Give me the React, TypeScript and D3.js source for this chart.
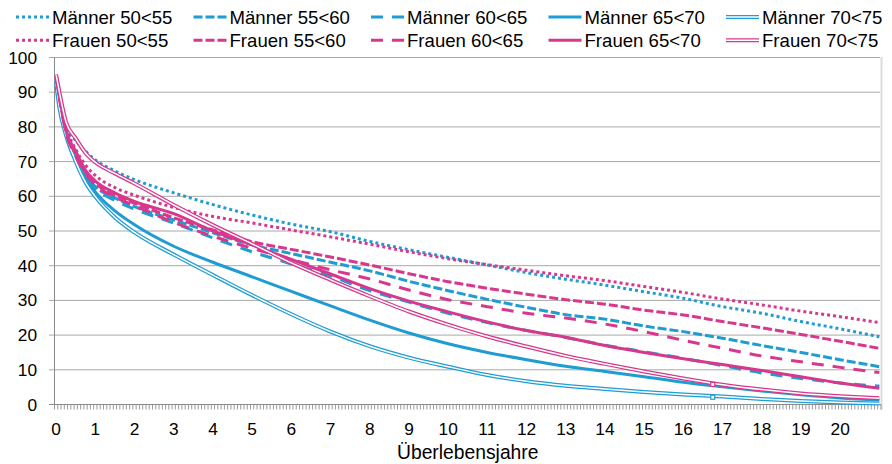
import React from 'react';
import * as d3 from 'd3';

// Survival years (x positions of the read-off points)
const YEARS = [0, 1 / 12, 0.25, 0.5, 0.75, 1, 1.5, 2, 3, 4, 5, 6, 7, 8, 9, 10, 11, 12, 13, 14, 15, 16, 17, 18, 19, 20, 21];

const M50 = [93, 87, 80, 76, 73, 70.5, 67.3, 64.8, 61, 57.6, 54.6, 52, 49.8, 47, 44.6, 42.4, 40.2, 38, 36.1, 34.4, 32.5, 30.6, 28.2, 26.3, 23.9, 21.8, 19.5];
const M55 = [93, 87, 78.5, 71, 66, 62.8, 59.5, 57, 53.2, 49.5, 46, 43.5, 41, 38.5, 35.5, 32.8, 30.3, 28, 25.9, 24.6, 22.6, 21, 19.1, 17, 15, 12.9, 10.9];
const M60 = [93, 87, 78, 70.5, 65.5, 62.3, 58.8, 56.3, 52.3, 48, 44, 40.5, 37, 32.8, 29.5, 26.3, 23.6, 21.3, 19.3, 17.1, 15.2, 13.3, 11.2, 9.1, 7.5, 6.2, 5.3];
const M65 = [93, 86, 78.7, 72, 65.5, 61.3, 55.8, 51.8, 45.6, 41, 36.8, 32.6, 28.4, 24.3, 20.6, 17.5, 15, 12.9, 11, 9.5, 8, 6.4, 5.1, 3.9, 2.8, 1.9, 1.3];
const M70 = [92.6, 85.5, 77.7, 70, 64, 59.9, 53.9, 49.6, 43.2, 37.3, 31.5, 26, 21, 16.8, 13.5, 10.9, 8.5, 6.7, 5.4, 4.5, 3.6, 2.9, 2.3, 1.6, 1.0, 0.6, 0.3];
const F50 = [95, 89, 80, 73.5, 69, 66, 62.5, 60.3, 56.8, 54.2, 52.3, 50.3, 48.3, 46.2, 44, 42, 40.3, 38.7, 37.1, 35.7, 34, 32.3, 30.4, 28.7, 26.9, 25.3, 23.6];
const F55 = [95, 88.5, 79, 72, 67, 63.8, 60.3, 58, 53.8, 50.3, 46.9, 44.7, 42.5, 40.2, 37.7, 35.4, 33.5, 31.8, 30.2, 28.9, 27.2, 25.8, 23.9, 22.1, 20.2, 18.2, 16.2];
const F60 = [95, 88.5, 78.5, 71.5, 66.5, 63.3, 59.8, 57.3, 52.5, 48.5, 45, 41.8, 38.8, 36.2, 33, 30.2, 28.2, 26.3, 24.9, 23.2, 21, 18.5, 16.2, 14, 12.3, 10.7, 9.2];
const F65 = [95, 89, 79, 73, 67.5, 64.4, 61, 58.5, 55, 50, 46, 41.8, 37.6, 33.4, 29.8, 26.7, 23.8, 21.3, 19.4, 17, 15, 13.2, 11.5, 9.8, 8, 6.2, 4.7];
const F70 = [95, 90, 81.5, 76.7, 72.5, 69.8, 66.6, 63.7, 57.5, 51.7, 46.3, 40.8, 35.9, 31.2, 26.8, 23, 19.6, 16.7, 14, 11.7, 9.5, 7.5, 5.7, 4.3, 3.2, 2.4, 1.8];

// single highlighted points on the double lines
const MARK_YEAR = 16.75;
const MARK_F70 = 5.8;
const MARK_M70 = 2.1;

const SERIES_NAMES = ['Männer 50<55', 'Männer 55<60', 'Männer 60<65', 'Männer 65<70', 'Männer 70<75',
  'Frauen 50<55', 'Frauen 55<60', 'Frauen 60<65', 'Frauen 65<70', 'Frauen 70<75'];
const SERIES_VALUES = [M50, M55, M60, M65, M70, F50, F55, F60, F65, F70];

const Y_TICKS = [0, 10, 20, 30, 40, 50, 60, 70, 80, 90, 100];
const X_LABELS = [0, 1, 2, 3, 4, 5, 6, 7, 8, 9, 10, 11, 12, 13, 14, 15, 16, 17, 18, 19, 20];
const MONTHS = 253;
const X_TITLE = 'Überlebensjahre';

const BLUE = '#1E9CD3';
const PINK = '#D8388B';
const STYLES = ['dot', 'sdash', 'dash', 'solid', 'double'];

const FONT = '"Liberation Sans", Arial, sans-serif';

function strokeProps(style: string) {
  switch (style) {
    case 'dot': return { strokeWidth: 3, strokeDasharray: '3 3' };
    case 'sdash': return { strokeWidth: 3, strokeDasharray: '9 3' };
    case 'dash': return { strokeWidth: 3, strokeDasharray: '12 9' };
    case 'solid': return { strokeWidth: 3 };
    default: return { strokeWidth: 4 };
  }
}

export default function App() {
  const W = 892, H = 464;
  const x = d3.scaleLinear().domain([-0.5 / 12, (MONTHS - 0.5) / 12]).range([54.5, 881]);
  const y = d3.scaleLinear().domain([0, 100]).range([404.5, 57.5]);

  const line = d3.line<number>()
    .x((_, i) => x(YEARS[i]))
    .y((d) => y(d))
    .curve(d3.curveMonotoneX);

  const series = SERIES_NAMES.map((name, i) => ({
    name,
    values: SERIES_VALUES[i],
    color: i < 5 ? BLUE : PINK,
    style: STYLES[i % 5],
  }));

  const minorTicks = d3.range(MONTHS + 1).map((k) => x((k - 0.5) / 12));

  const legendCols = [16, 193.5, 371, 548.5, 726];
  const legendRows = [24, 47.3];

  const drawPath = (d: string, color: string, style: string, key: string) => {
    const sp = strokeProps(style);
    if (style === 'double') {
      return (
        <g key={key}>
          <path d={d} fill="none" stroke={color} strokeWidth={sp.strokeWidth} strokeLinejoin="round" />
          <path d={d} fill="none" stroke="#fff" strokeWidth={1.5} strokeLinejoin="round" />
        </g>
      );
    }
    return (
      <path key={key} d={d} fill="none" stroke={color} strokeWidth={sp.strokeWidth}
        strokeDasharray={(sp as any).strokeDasharray} strokeLinejoin="round" strokeLinecap="butt" />
    );
  };

  return (
    <svg width={W} height={H} style={{ position: 'absolute', left: 0, top: 0, background: '#fff' }}
      fontFamily={FONT}>
      <rect x={0} y={0} width={W} height={H} fill="#fff" />
      {/* gridlines + y ticks */}
      {Y_TICKS.map((t) => (
        <line key={'g' + t} x1={49} x2={880} y1={y(t)} y2={y(t)} stroke="#a8a8a8" strokeWidth={1} />
      ))}
      {/* right edge */}
      <line x1={881.5} x2={881.5} y1={57} y2={410} stroke="#dcdcdc" strokeWidth={2} />
      {/* y axis */}
      <line x1={54.5} x2={54.5} y1={57.5} y2={404.5} stroke="#8a8a8a" strokeWidth={1} />
      {/* x axis minor ticks */}
      {minorTicks.map((px, k) => (
        <line key={'m' + k} x1={px} x2={px} y1={404.5} y2={409.5} stroke="#9a9a9a" strokeWidth={1} />
      ))}
      <line x1={49} x2={881} y1={404.5} y2={404.5} stroke="#8a8a8a" strokeWidth={1} />
      {/* y labels */}
      {Y_TICKS.map((t) => (
        <text key={'yl' + t} x={37} y={y(t)} dy="0.35em" textAnchor="end" fontSize={17.3} fill="#000">{t}</text>
      ))}
      {/* x labels */}
      {X_LABELS.map((t) => (
        <text key={'xl' + t} x={x(t)} y={435} textAnchor="middle" fontSize={17.3} fill="#000">{t}</text>
      ))}
      <text x={(x.range()[0] + x.range()[1]) / 2} y={458.5} textAnchor="middle" fontSize={19.3} fill="#000">{X_TITLE}</text>
      {/* series */}
      {series.map((s, i) => drawPath(line(s.values) || '', s.color, s.style, 's' + i))}
      {/* markers */}
      <rect x={x(MARK_YEAR) - 2} y={y(MARK_M70) - 2} width={4} height={4} fill="#fff" stroke={BLUE} strokeWidth={1.2} />
      <rect x={x(MARK_YEAR) - 2} y={y(MARK_F70) - 2} width={4} height={4} fill="#fff" stroke={PINK} strokeWidth={1.2} />
      {/* legend */}
      {series.map((s, i) => {
        const cx = legendCols[i % 5];
        const by = legendRows[Math.floor(i / 5)];
        const ly = by - 7;
        const d = `M${cx},${ly}L${cx + 33},${ly}`;
        return (
          <g key={'lg' + i}>
            {drawPath(d, s.color, s.style, 'lp' + i)}
            <text x={cx + 36} y={by} fontSize={18.6} fill="#000">{s.name}</text>
          </g>
        );
      })}
    </svg>
  );
}
